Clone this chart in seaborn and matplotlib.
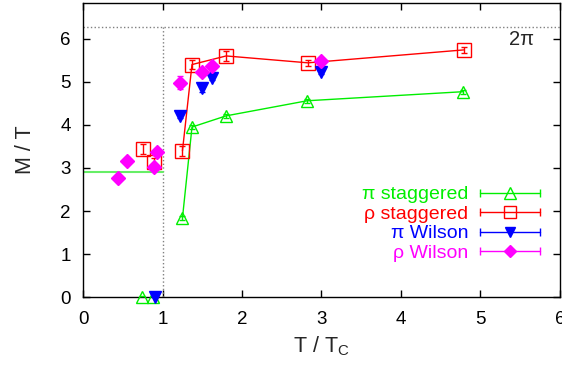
import numpy as np
import pandas as pd
import matplotlib
matplotlib.use("Agg")
import matplotlib.pyplot as plt
import seaborn as sns
from matplotlib.lines import Line2D
from matplotlib.legend_handler import HandlerBase

# data
pi_stag_T = [0.74, 0.88, 1.25, 1.37, 1.80, 2.82, 4.78]
pi_stag_M = [0.0, 0.0, 1.84, 3.95, 4.21, 4.56, 4.77]
pi_stag_err = [0.02, 0.02, 0.05, 0.05, 0.05, 0.05, 0.05]

rho_stag_T = [0.75, 0.89, 1.25, 1.37, 1.80, 2.83, 4.79]
rho_stag_M = [3.44, 3.14, 3.40, 5.40, 5.60, 5.44, 5.74]
rho_stag_err = [0.12, 0.10, 0.12, 0.10, 0.12, 0.07, 0.07]

pi_wil_T = [0.90, 1.22, 1.50, 1.62, 2.99]
pi_wil_M = [0.0, 4.21, 4.86, 5.09, 5.23]
pi_wil_err = [0.02, 0.05, 0.10, 0.05, 0.05]

rho_wil_T = [0.44, 0.55, 0.89, 0.93, 1.22, 1.50, 1.62, 2.99]
rho_wil_M = [2.77, 3.17, 3.03, 3.36, 4.98, 5.23, 5.37, 5.49]
rho_wil_err = [0.05, 0.03, 0.05, 0.05, 0.15, 0.05, 0.05, 0.05]

# low temperature pi line
pi_low_T = [0.0, 1.0]
pi_low_M = [2.9, 2.9]

sns.set_style("ticks")
plt.rcParams["font.family"] = ["Liberation Sans", "DejaVu Sans"]
plt.rcParams["mathtext.fontset"] = "custom"
plt.rcParams["mathtext.rm"] = "Liberation Sans"
plt.rcParams["mathtext.it"] = "Liberation Sans"

fig = plt.figure(figsize=(5.62, 3.67), dpi=100)
ax = fig.add_axes([0.148, 0.19, 0.848, 0.802])

two_pi = 2 * np.pi
ax.plot([0, 6], [two_pi, two_pi], color="gray", ls=":", lw=1)
ax.plot([1, 1], [0, two_pi], color="gray", ls=":", lw=1)

green, red, blue, magenta = "#00ee00", "#ff0000", "#0000ff", "#ff00ff"

sns.lineplot(x=pi_low_T, y=pi_low_M, color="#66ee66", lw=1.5, ax=ax)
sns.lineplot(x=pi_stag_T[2:], y=pi_stag_M[2:], color=green, lw=1, sort=False, estimator=None, ax=ax)
sns.lineplot(x=rho_stag_T[2:], y=rho_stag_M[2:], color=red, lw=1, sort=False, estimator=None, ax=ax)

series = [
    (pi_stag_T, pi_stag_M, pi_stag_err, green, "^", "none", 9, "π staggered"),
    (rho_stag_T, rho_stag_M, rho_stag_err, red, "s", "none", 10, "ρ staggered"),
    (pi_wil_T, pi_wil_M, pi_wil_err, blue, "v", blue, 8, "π Wilson"),
    (rho_wil_T, rho_wil_M, rho_wil_err, magenta, "D", magenta, 7, "ρ Wilson"),
]
for T, M, err, c, mk, fc, ms, lab in series:
    ax.errorbar(T, M, yerr=err, fmt="none", ecolor=c, elinewidth=1, capsize=2, zorder=3)
    ax.plot(T, M, ls="none", marker=mk, mfc=fc, mec=c, ms=ms, mew=1, zorder=4, clip_on=False)


class ErrHandler(HandlerBase):
    def __init__(self, c, mk, fc, ms):
        super().__init__()
        self.c, self.mk, self.fc, self.ms = c, mk, fc, ms

    def create_artists(self, legend, orig, xd, yd, w, h, fs, trans):
        y = h / 2 - yd
        x0, x1 = -xd, -xd + w
        line = Line2D([x0, x1], [y, y], color=self.c, lw=1, marker="|", ms=6, mew=1)
        mark = Line2D([(x0 + x1) / 2], [y], ls="none", marker=self.mk, mfc=self.fc,
                      mec=self.c, ms=self.ms * 0.9, mew=1)
        line.set_transform(trans)
        mark.set_transform(trans)
        return [line, mark]


handles, labels, hmap = [], [], {}
for T, M, err, c, mk, fc, ms, lab in series:
    h = Line2D([], [], color=c)
    handles.append(h)
    labels.append(lab)
    hmap[h] = ErrHandler(c, mk, fc, ms)

leg = ax.legend(handles, labels, handler_map=hmap, loc="upper right",
                bbox_to_anchor=(0.979, 0.412), frameon=False, markerfirst=False,
                fontsize=14, labelspacing=0.1, handlelength=3.1, handletextpad=0.6,
                borderpad=0, labelcolor=[s[3] for s in series])
leg._legend_box.align = "right"

ax.text(5.52, 5.97, "2π", fontsize=14.5, ha="center", va="center")

ax.set_xlim(0, 6)
ax.set_ylim(0, 6.83)
ax.set_xticks(range(7))
ax.set_yticks(range(7))
ax.tick_params(direction="in", top=True, right=True, length=5, labelsize=13.5,
               width=1, color="black", labelcolor="black")
ax.tick_params(axis="x", pad=10)
ax.tick_params(axis="y", pad=9)
for s in ax.spines.values():
    s.set_linewidth(1)
    s.set_color("black")
ax.set_xlabel("T / T$_\\mathrm{C}$", fontsize=15.5)
ax.set_ylabel("M / T", fontsize=15.5)
ax.xaxis.set_label_coords(0.5, -0.125)
ax.yaxis.set_label_coords(-0.099, 0.5)

fig.savefig("out.png", dpi=100)
